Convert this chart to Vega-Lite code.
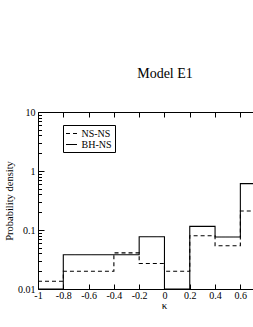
{
  "$schema": "https://vega.github.io/schema/vega-lite/v6.json",
  "autosize": "none",
  "width": 215,
  "height": 177,
  "padding": {"left": 38, "top": 112, "right": 0, "bottom": 38},
  "background": "white",
  "config": {
    "view": {"stroke": null},
    "axis": {"grid": false, "domainColor": "black", "tickColor": "black", "labelColor": "black", "titleColor": "black", "labelFont": "Liberation Serif", "titleFont": "Liberation Serif", "titleFontWeight": "normal", "domainWidth": 1, "tickWidth": 1},
    "legend": {"labelFont": "Liberation Serif"}
  },
  "title": {"text": "Model E1", "font": "Liberation Serif", "fontSize": 14, "fontWeight": "normal", "color": "black", "anchor": "middle", "dx": 19.5, "baseline": "alphabetic", "offset": 15},
  "data": {
    "values": [
      {"series": "NS-NS", "kappa": -1.0, "density": 0.0135},
      {"series": "NS-NS", "kappa": -0.8, "density": 0.02},
      {"series": "NS-NS", "kappa": -0.6, "density": 0.02},
      {"series": "NS-NS", "kappa": -0.4, "density": 0.041},
      {"series": "NS-NS", "kappa": -0.2, "density": 0.027},
      {"series": "NS-NS", "kappa": 0.0, "density": 0.02},
      {"series": "NS-NS", "kappa": 0.2, "density": 0.08},
      {"series": "NS-NS", "kappa": 0.4, "density": 0.054},
      {"series": "NS-NS", "kappa": 0.6, "density": 0.21},
      {"series": "NS-NS", "kappa": 0.8, "density": 0.21},
      {"series": "BH-NS", "kappa": -1.0, "density": 0.01},
      {"series": "BH-NS", "kappa": -0.8, "density": 0.038},
      {"series": "BH-NS", "kappa": -0.6, "density": 0.038},
      {"series": "BH-NS", "kappa": -0.4, "density": 0.038},
      {"series": "BH-NS", "kappa": -0.2, "density": 0.077},
      {"series": "BH-NS", "kappa": 0.0, "density": 0.01},
      {"series": "BH-NS", "kappa": 0.2, "density": 0.115},
      {"series": "BH-NS", "kappa": 0.4, "density": 0.076},
      {"series": "BH-NS", "kappa": 0.6, "density": 0.61},
      {"series": "BH-NS", "kappa": 0.8, "density": 0.61}
    ]
  },
  "layer": [
    {
      "mark": {"type": "line", "interpolate": "step-after", "clip": true, "color": "black", "strokeWidth": 1.1},
      "encoding": {
        "x": {"field": "kappa", "type": "quantitative",
          "scale": {"domain": [-1, 0.7], "nice": false, "zero": false},
          "axis": {"orient": "bottom", "values": [-1, -0.8, -0.6, -0.4, -0.2, 0, 0.2, 0.4, 0.6], "format": "~g", "labelExpr": "replace(datum.label, '\u2212', '-')", "tickSize": -5, "labelPadding": 6, "labelFlush": false, "labelFontSize": 10, "labelOverlap": false, "title": "κ", "titleFontSize": 11, "titleX": 126, "titleY": 19, "titleBaseline": "alphabetic", "titleAlign": "center"}},
        "y": {"field": "density", "type": "quantitative",
          "scale": {"type": "log", "domain": [0.01, 10], "nice": false},
          "axis": {"orient": "left", "values": [0.01, 0.1, 1, 10], "format": "~g", "tickSize": -6, "labelPadding": 9, "labelFontSize": 10, "labelOverlap": false, "title": "Probability density", "titleFontSize": 10.5, "titleAngle": 270, "titleX": -25.5, "titleY": 88.5, "titleBaseline": "alphabetic", "titleAlign": "center"}},
        "strokeDash": {"field": "series", "type": "nominal",
          "scale": {"domain": ["NS-NS", "BH-NS"], "range": [[4, 3], [1, 0]]},
          "legend": {"orient": "none", "legendX": 25, "legendY": 13, "title": null, "strokeColor": "black", "padding": 2.5, "symbolType": "stroke", "symbolSize": 121, "symbolStrokeColor": "black", "symbolStrokeWidth": 1, "labelFontSize": 10, "labelColor": "black", "labelOffset": 4, "rowPadding": -1}}
      }
    },
    {
      "mark": {"type": "point", "opacity": 0},
      "encoding": {
        "x": {"field": "kappa", "type": "quantitative",
          "axis": {"orient": "top", "values": [-1, -0.8, -0.6, -0.4, -0.2, 0, 0.2, 0.4, 0.6], "labels": false, "tickSize": -5, "title": null}},
        "y": {"field": "density", "type": "quantitative",
          "axis": {"orient": "left", "values": [0.02, 0.03, 0.04, 0.05, 0.06, 0.07, 0.08, 0.09, 0.2, 0.3, 0.4, 0.5, 0.6, 0.7, 0.8, 0.9, 2, 3, 4, 5, 6, 7, 8, 9], "labels": false, "domain": false, "tickSize": -3.5, "title": null}}
      }
    }
  ],
  "resolve": {"axis": {"x": "independent", "y": "independent"}}
}
